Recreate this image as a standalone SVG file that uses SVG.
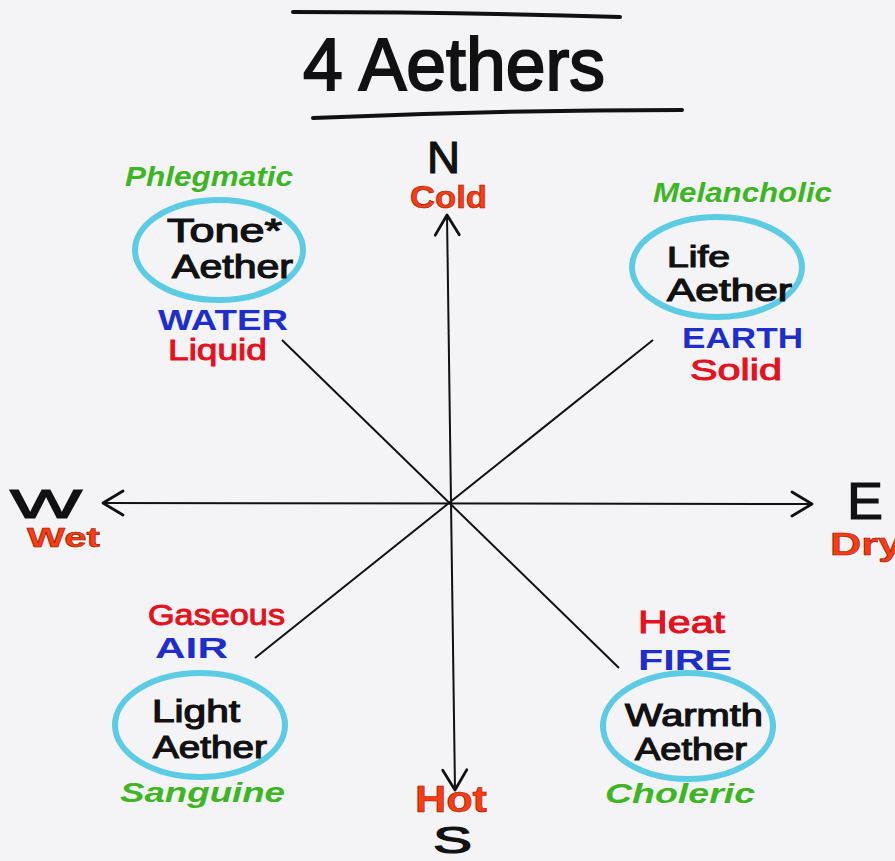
<svg xmlns="http://www.w3.org/2000/svg" width="895" height="861" viewBox="0 0 895 861">
<defs>
<style>
text{font-family:"Liberation Sans","DejaVu Sans",sans-serif}
.ink{fill:#111;font-weight:normal;stroke:#111;stroke-width:1.2}
.title{fill:#111;stroke:#111;stroke-width:2}
.grn{fill:#3DB524;font-weight:bold;font-style:italic}
.blu{fill:#1E2ECB;font-weight:bold}
.red{fill:#E3121E;font-weight:normal;stroke:#E3121E;stroke-width:1}
.org{fill:#FF3B12;font-weight:bold;stroke:#8A1A00;stroke-width:0.6}
.ring{fill:none;stroke:#5CCBE4;stroke-width:6}
.line{stroke:#111;stroke-width:2;fill:none}
.rule{stroke:#111;stroke-width:4;stroke-linecap:round;fill:none}
</style>
<marker id="chev" viewBox="-26 -16 30 32" refX="0" refY="0" markerWidth="30" markerHeight="32" markerUnits="userSpaceOnUse" orient="auto-start-reverse">
<path d="M-20,-12 L0,0 L-20,12" fill="none" stroke="#111" stroke-width="2.8" stroke-linecap="round" stroke-linejoin="round"/>
</marker>
</defs>
<rect width="895" height="861" fill="#F4F3F6"/>

<g id="title">
<path class="rule" d="M293,12 Q460,12 620,17"/>
<text class="title" x="303" y="90" font-size="74" textLength="302" lengthAdjust="spacingAndGlyphs">4 Aethers</text>
<path class="rule" d="M313,118 Q500,110 682,110"/>
</g>

<g id="connectors">
<line class="line" x1="447" y1="215" x2="455" y2="790" marker-start="url(#chev)" marker-end="url(#chev)"/>
<line class="line" x1="103" y1="503" x2="812" y2="504" marker-start="url(#chev)" marker-end="url(#chev)"/>
<line class="line" x1="282" y1="340" x2="619" y2="668"/>
<line class="line" x1="653" y1="340" x2="255" y2="658"/>
</g>

<g id="north">
<text class="ink" x="427" y="173" font-size="44" textLength="33" lengthAdjust="spacingAndGlyphs">N</text>
<text class="org" x="410" y="208" font-size="32" textLength="77" lengthAdjust="spacingAndGlyphs">Cold</text>
</g>
<g id="west">
<text class="ink" x="10" y="518" font-size="40" textLength="72" lengthAdjust="spacingAndGlyphs">W</text>
<text class="org" x="27" y="547" font-size="28" textLength="73" lengthAdjust="spacingAndGlyphs">Wet</text>
</g>
<g id="east">
<text class="ink" x="847" y="519" font-size="52" textLength="36" lengthAdjust="spacingAndGlyphs">E</text>
<text class="org" x="830" y="555" font-size="32" textLength="72" lengthAdjust="spacingAndGlyphs">Dry</text>
</g>
<g id="south">
<text class="org" x="415" y="812" font-size="36" textLength="72" lengthAdjust="spacingAndGlyphs">Hot</text>
<text class="ink" x="433" y="853" font-size="36" textLength="39" lengthAdjust="spacingAndGlyphs">S</text>
</g>

<g id="tone-aether">
<text class="grn" x="125" y="186" font-size="28" textLength="168" lengthAdjust="spacingAndGlyphs">Phlegmatic</text>
<ellipse class="ring" cx="219" cy="250" rx="84" ry="50"/>
<text class="ink" x="167" y="242" font-size="33" textLength="115" lengthAdjust="spacingAndGlyphs">Tone*</text>
<text class="ink" x="172" y="278" font-size="33" textLength="121" lengthAdjust="spacingAndGlyphs">Aether</text>
<text class="blu" x="158" y="330" font-size="29" textLength="130" lengthAdjust="spacingAndGlyphs">WATER</text>
<text class="red" x="168" y="360" font-size="30" textLength="99" lengthAdjust="spacingAndGlyphs">Liquid</text>
</g>

<g id="life-aether">
<text class="grn" x="653" y="202" font-size="28" textLength="179" lengthAdjust="spacingAndGlyphs">Melancholic</text>
<ellipse class="ring" cx="717" cy="267" rx="85" ry="50"/>
<text class="ink" x="667" y="267" font-size="29" textLength="63" lengthAdjust="spacingAndGlyphs">Life</text>
<text class="ink" x="667" y="301" font-size="31" textLength="125" lengthAdjust="spacingAndGlyphs">Aether</text>
<text class="blu" x="682" y="348" font-size="29" textLength="121" lengthAdjust="spacingAndGlyphs">EARTH</text>
<text class="red" x="690" y="380" font-size="30" textLength="92" lengthAdjust="spacingAndGlyphs">Solid</text>
</g>

<g id="light-aether">
<text class="red" x="148" y="625" font-size="30" textLength="137" lengthAdjust="spacingAndGlyphs">Gaseous</text>
<text class="blu" x="155" y="658" font-size="29" textLength="73" lengthAdjust="spacingAndGlyphs">AIR</text>
<ellipse class="ring" cx="200" cy="725" rx="85" ry="52"/>
<text class="ink" x="152" y="722" font-size="32" textLength="88" lengthAdjust="spacingAndGlyphs">Light</text>
<text class="ink" x="153" y="758" font-size="32" textLength="114" lengthAdjust="spacingAndGlyphs">Aether</text>
<text class="grn" x="120" y="802" font-size="28" textLength="165" lengthAdjust="spacingAndGlyphs">Sanguine</text>
</g>

<g id="warmth-aether">
<text class="red" x="638" y="633" font-size="32" textLength="87" lengthAdjust="spacingAndGlyphs">Heat</text>
<text class="blu" x="638" y="670" font-size="30" textLength="94" lengthAdjust="spacingAndGlyphs">FIRE</text>
<ellipse class="ring" cx="688" cy="726" rx="85" ry="53"/>
<text class="ink" x="625" y="726" font-size="32" textLength="138" lengthAdjust="spacingAndGlyphs">Warmth</text>
<text class="ink" x="635" y="760" font-size="32" textLength="112" lengthAdjust="spacingAndGlyphs">Aether</text>
<text class="grn" x="605" y="803" font-size="28" textLength="150" lengthAdjust="spacingAndGlyphs">Choleric</text>
</g>
</svg>
